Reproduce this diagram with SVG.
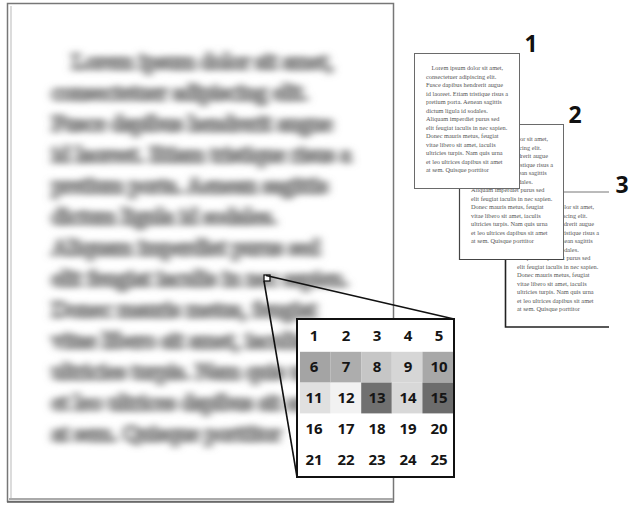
<svg xmlns="http://www.w3.org/2000/svg" xmlns:xlink="http://www.w3.org/1999/xlink" width="629" height="508" viewBox="0 0 629 508">
<style>
.body{font-family:"Liberation Serif","Times New Roman",serif;font-size:23px}
.num{font-family:"Open Sans","Noto Sans","DejaVu Sans",sans-serif;font-weight:700;font-size:15px;fill:#151515;text-anchor:middle}
.lbl{font-family:"Open Sans","Noto Sans","DejaVu Sans",sans-serif;font-weight:700;font-size:23px;fill:#111;text-anchor:middle}
.pg{fill:#fff;stroke:#6a6a6a;stroke-width:1}
.conn{stroke:#111;stroke-width:1.6;fill:none}
</style>
<defs>
<filter id="blur" x="-5%" y="-20%" width="110%" height="140%"><feGaussianBlur stdDeviation="4 3.2"/></filter>
<g id="txt" class="body">
<text x="72" y="69">Lorem ipsum dolor sit amet,</text>
<text x="52" y="100">consectetuer adipiscing elit.</text>
<text x="52" y="131">Fusce dapibus hendrerit augue</text>
<text x="52" y="162">id laoreet. Etiam tristique risus a</text>
<text x="52" y="193">pretium porta. Aenean sagittis</text>
<text x="52" y="224">dictum ligula id sodales.</text>
<text x="52" y="255">Aliquam imperdiet purus sed</text>
<text x="52" y="286">elit feugiat iaculis in nec sapien.</text>
<text x="52" y="317">Donec mauris metus, feugiat</text>
<text x="52" y="348">vitae libero sit amet, iaculis</text>
<text x="52" y="379">ultricies turpis. Nam quis urna</text>
<text x="52" y="410">et leo ultrices dapibus sit amet</text>
<text x="52" y="441">at sem. Quisque porttitor</text>
</g>
</defs>
<rect width="629" height="508" fill="#fff"/>

<g id="big-page">
<rect x="7.5" y="3.5" width="386" height="498" fill="#fff" stroke="#777" stroke-width="1.5"/>
<line x1="11" y1="6" x2="11" y2="499" stroke="#c4c4c4" stroke-width="1.2"/>
<line x1="9" y1="499" x2="393" y2="499" stroke="#aaa" stroke-width="2"/>
<line x1="7" y1="502" x2="394" y2="502" stroke="#666" stroke-width="1.5"/>
<g filter="url(#blur)" fill="#8a8a8a" stroke="#8a8a8a" stroke-width="3">
<use xlink:href="#txt"/>
</g>
<rect x="264" y="275" width="6" height="6" fill="#fff" stroke="#111" stroke-width="1.3"/>
</g>

<g id="page-3">
<rect x="505" y="192" width="104" height="135" fill="#fff"/>
<use xlink:href="#txt" transform="translate(502.7,190) scale(0.275)" fill="#555"/>
<path d="M505 192 H609" stroke="#777" stroke-width="1" fill="none"/>
<path d="M505.5 192 V327 H609" stroke="#222" stroke-width="1.6" fill="none"/>
<text class="lbl" x="622" y="193">3</text>
</g>

<g id="page-2">
<rect class="pg" x="459.5" y="124.5" width="104" height="135"/>
<use xlink:href="#txt" transform="translate(456.7,122) scale(0.275)" fill="#555"/>
<path d="M459.5 124.5 V259.5 H563.5" stroke="#444" stroke-width="1.2" fill="none"/>
<text class="lbl" x="575" y="123">2</text>
</g>

<g id="page-1">
<rect class="pg" x="414.5" y="53.5" width="105" height="135"/>
<use xlink:href="#txt" transform="translate(411.7,51) scale(0.275)" fill="#555"/>
<text class="lbl" x="531" y="52">1</text>
</g>

<g id="connectors">
<line class="conn" x1="266" y1="275.5" x2="454" y2="319"/>
<line class="conn" x1="264" y1="281" x2="297" y2="477"/>
</g>

<g id="zoom-grid">
<rect x="297" y="319" width="157" height="158" fill="#fff" stroke="#111" stroke-width="2"/>
<rect x="300" y="351.8" width="30.6" height="30.8" fill="#a4a4a4"/>
<rect x="330.6" y="351.8" width="30.6" height="30.8" fill="#adadad"/>
<rect x="361.2" y="351.8" width="30.6" height="30.8" fill="#c6c6c6"/>
<rect x="391.8" y="351.8" width="30.6" height="30.8" fill="#d6d6d6"/>
<rect x="422.4" y="351.8" width="30.6" height="30.8" fill="#a8a8a8"/>
<rect x="300" y="382.6" width="30.6" height="30.8" fill="#e0e0e0"/>
<rect x="330.6" y="382.6" width="30.6" height="30.8" fill="#f2f2f2"/>
<rect x="361.2" y="382.6" width="30.6" height="30.8" fill="#707070"/>
<rect x="391.8" y="382.6" width="30.6" height="30.8" fill="#d8d8d8"/>
<rect x="422.4" y="382.6" width="30.6" height="30.8" fill="#6c6c6c"/>
<text class="num" x="314" y="341">1</text><text class="num" x="346" y="341">2</text><text class="num" x="377" y="341">3</text><text class="num" x="408" y="341">4</text><text class="num" x="439" y="341">5</text>
<text class="num" x="314" y="372">6</text><text class="num" x="346" y="372">7</text><text class="num" x="377" y="372">8</text><text class="num" x="408" y="372">9</text><text class="num" x="439" y="372">10</text>
<text class="num" x="314" y="403">11</text><text class="num" x="346" y="403">12</text><text class="num" x="377" y="403">13</text><text class="num" x="408" y="403">14</text><text class="num" x="439" y="403">15</text>
<text class="num" x="314" y="434">16</text><text class="num" x="346" y="434">17</text><text class="num" x="377" y="434">18</text><text class="num" x="408" y="434">19</text><text class="num" x="439" y="434">20</text>
<text class="num" x="314" y="465">21</text><text class="num" x="346" y="465">22</text><text class="num" x="377" y="465">23</text><text class="num" x="408" y="465">24</text><text class="num" x="439" y="465">25</text>
</g>
</svg>
